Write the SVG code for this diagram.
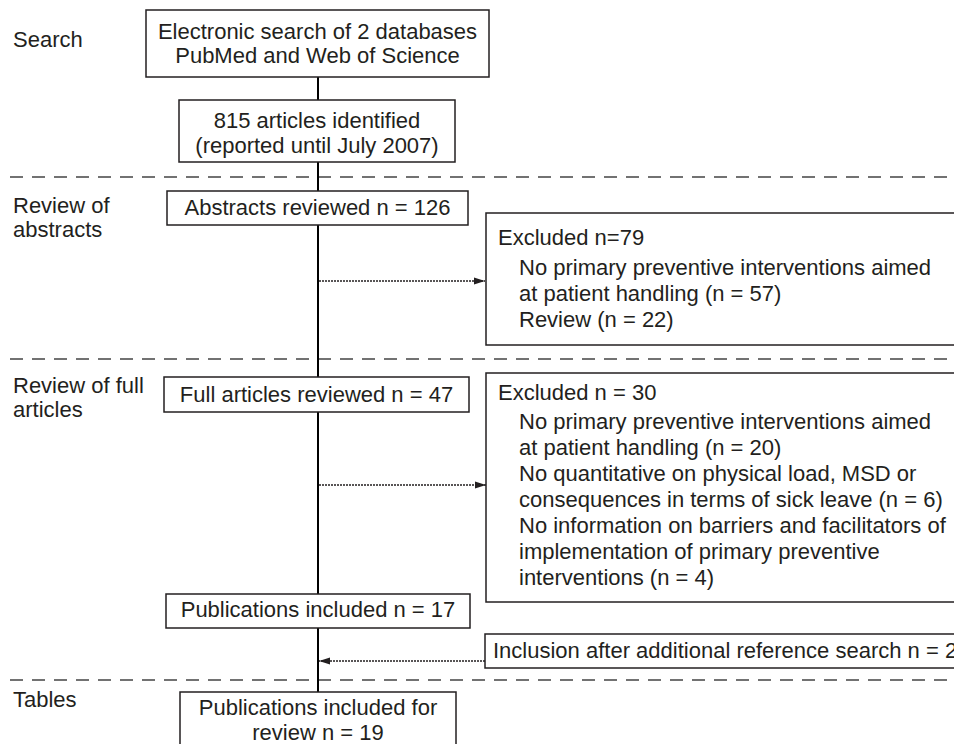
<svg xmlns="http://www.w3.org/2000/svg" width="954" height="744" viewBox="0 0 954 744">
<style>
text{font-family:"Liberation Sans",Arial,Helvetica,sans-serif;font-size:22px;fill:#231f20}
.c{text-anchor:middle}
.box{fill:#fff;stroke:#231f20;stroke-width:1.5}
.main{stroke:#000;stroke-width:2;fill:none}
.dash{stroke:#444;stroke-width:1.5;stroke-dasharray:13 9;fill:none}
.dot{stroke:#231f20;stroke-width:1.5;stroke-dasharray:2 1;fill:none}
</style>
<defs>
<marker id="ah" markerUnits="userSpaceOnUse" markerWidth="12" markerHeight="10" refX="11" refY="5" orient="auto">
<path d="M0,1.5 L11,5 L0,8.5 Z" fill="#231f20"/>
</marker>
</defs>
<g id="section-lines">
<line class="dash" x1="10" y1="177" x2="954" y2="177"/>
<line class="dash" x1="10" y1="359" x2="954" y2="359"/>
<line class="dash" x1="10" y1="680" x2="954" y2="680"/>
</g>
<g id="labels">
<text x="13" y="47">Search</text>
<text x="13" y="213">Review of</text>
<text x="13" y="237">abstracts</text>
<text x="13" y="393">Review of full</text>
<text x="13" y="417">articles</text>
<text x="13" y="707">Tables</text>
</g>
<g id="connectors">
<line class="main" x1="318" y1="77" x2="318" y2="692"/>
<line class="dot" x1="319" y1="281" x2="485" y2="281" marker-end="url(#ah)"/>
<line class="dot" x1="319" y1="485" x2="486" y2="485" marker-end="url(#ah)"/>
<line class="dot" x1="485" y1="661" x2="319" y2="661" marker-end="url(#ah)"/>
</g>
<g id="search">
<rect class="box" x="146" y="10" width="343" height="67"/>
<text class="c" x="317.5" y="39">Electronic search of 2 databases</text>
<text class="c" x="317.5" y="63">PubMed and Web of Science</text>
</g>
<g id="identified">
<rect class="box" x="179" y="100" width="276" height="62"/>
<text class="c" x="317" y="128">815 articles identified</text>
<text class="c" x="317" y="153">(reported until July 2007)</text>
</g>
<g id="abstracts">
<rect class="box" x="167" y="191" width="301" height="34"/>
<text class="c" x="317.5" y="215">Abstracts reviewed n = 126</text>
</g>
<g id="excluded1">
<rect class="box" x="486" y="213" width="480" height="132"/>
<text x="498" y="245">Excluded n=79</text>
<text x="519" y="275">No primary preventive interventions aimed</text>
<text x="519" y="301">at patient handling (n = 57)</text>
<text x="519" y="327">Review (n = 22)</text>
</g>
<g id="fullarticles">
<rect class="box" x="164" y="377" width="305" height="35"/>
<text class="c" x="316.5" y="402">Full articles reviewed n = 47</text>
</g>
<g id="excluded2">
<rect class="box" x="486" y="373" width="480" height="229"/>
<text x="498" y="400">Excluded n = 30</text>
<text x="519" y="429">No primary preventive interventions aimed</text>
<text x="519" y="455">at patient handling (n = 20)</text>
<text x="519" y="481">No quantitative on physical load, MSD or</text>
<text x="519" y="507">consequences in terms of sick leave (n = 6)</text>
<text x="519" y="533">No information on barriers and facilitators of</text>
<text x="519" y="559">implementation of primary preventive</text>
<text x="519" y="585">interventions (n = 4)</text>
</g>
<g id="included17">
<rect class="box" x="166" y="594" width="304" height="34"/>
<text class="c" x="318" y="617">Publications included n = 17</text>
</g>
<g id="inclusion">
<rect class="box" x="485" y="634" width="480" height="34"/>
<text x="493" y="658">Inclusion after additional reference search n = 2</text>
</g>
<g id="included19">
<rect class="box" x="180" y="692" width="276" height="60"/>
<text class="c" x="318" y="715">Publications included for</text>
<text class="c" x="318" y="740">review n = 19</text>
</g>
</svg>
